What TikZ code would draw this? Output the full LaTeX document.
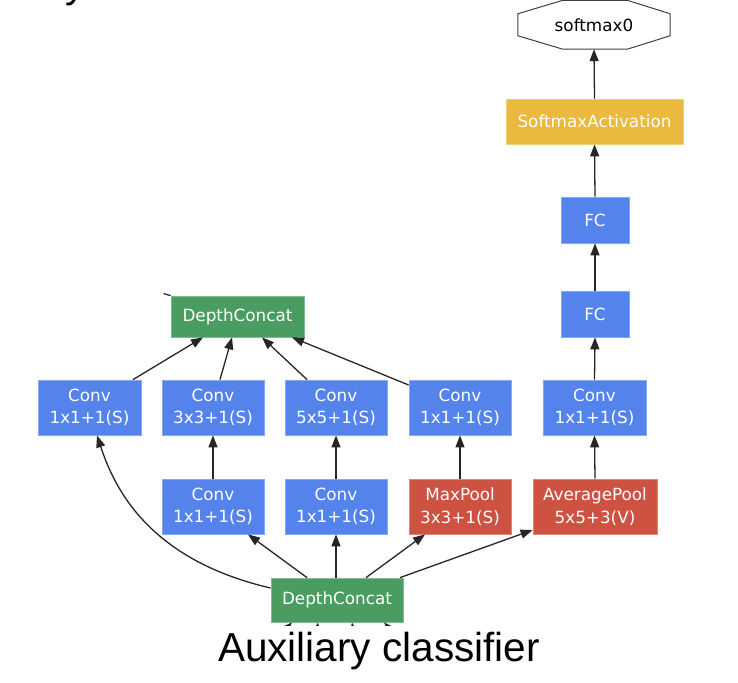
\documentclass[tikz,border=0pt]{standalone}
\usepackage{fontspec}
\newfontfamily\dvfont{DejaVu Sans}
\newfontfamily\capfont{Liberation Sans}
\usetikzlibrary{arrows.meta,calc}
\definecolor{gblue}{RGB}{84,131,236}
\definecolor{ggreen}{RGB}{73,157,97}
\definecolor{gred}{RGB}{205,82,65}
\definecolor{gyellow}{RGB}{234,185,61}
\tikzset{
  box/.style={rectangle, inner sep=0pt, align=center, text=white,
    font=\dvfont\fontsize{16.8}{22.5}\selectfont, line width=0.8pt},
  bluebox/.style={box, fill=gblue, draw=gblue!70!white, minimum width=103pt, minimum height=55pt},
  fcbox/.style={box, fill=gblue, draw=gblue!70!white, minimum width=68pt, minimum height=46pt},
  redbox/.style={box, fill=gred, draw=gred!70!white, minimum height=55pt},
  greenbox/.style={box, fill=ggreen, draw=ggreen!70!white},
  yellowbox/.style={box, fill=gyellow, draw=gyellow!70!white, minimum width=177pt, minimum height=45pt},
  octnode/.style={rectangle, inner sep=0pt, minimum width=152pt, minimum height=48.5pt,
    font=\dvfont\fontsize{16.8}{22}\selectfont, text=black},
  octline/.style={draw=black!75, line width=1pt, fill=white},
  conn/.style={line width=1.3pt, draw=black!85, -{Triangle[length=12pt,width=9pt]}},
  plainconn/.style={line width=1.3pt, draw=black!85},
  capstyle/.style={font=\capfont\fontsize{40.5}{48}\selectfont, inner sep=0pt, text=black},
}
\begin{document}
\begin{tikzpicture}[x=1pt,y=-1pt]
\useasboundingbox (0,0) rectangle (738,682);
\begin{scope}
\clip (0,0) rectangle (738,682);
\fill[white] (0,0) rectangle (738,682);

% cut-off title glyph
\node[capstyle, anchor=base west] (ytop) at (65,-2.6) {y};

% octagon output
\node[octnode] (sm) at (594,24.75) {};
\draw[octline] ($(sm.west)+(0,-11)$) -- ($(sm.north west)+(45,0)$) -- ($(sm.north east)+(-43,0)$)
  -- ($(sm.east)+(0,-11)$) -- ($(sm.east)+(0,11)$) -- ($(sm.south east)+(-43,0)$)
  -- ($(sm.south west)+(45,0)$) -- ($(sm.west)+(0,11)$) -- cycle;
\node[octnode] at (sm) {softmax0};

\node[yellowbox] (sa) at (594.5,121.5) {SoftmaxActivation};
\node[fcbox] (fc2) at (595,220) {FC};
\node[fcbox] (fc1) at (595,314) {FC};
\node[bluebox] (cr) at (594.5,407.5) {Conv\\1x1+1(S)};
\node[redbox, minimum width=124pt] (avg) at (595,506.5) {AveragePool\\5x5+3(V)};
\node[redbox, minimum width=102pt] (mp) at (460,506.5) {MaxPool\\3x3+1(S)};
\node[bluebox, minimum width=102pt] (cb5) at (336,506.5) {Conv\\1x1+1(S)};
\node[bluebox, minimum width=102pt] (cb3) at (213,506.5) {Conv\\1x1+1(S)};
\node[bluebox] (c1) at (89.5,407.5) {Conv\\1x1+1(S)};
\node[bluebox, minimum width=102pt] (c3) at (213,407.5) {Conv\\3x3+1(S)};
\node[bluebox, minimum width=102pt] (c5) at (336,407.5) {Conv\\5x5+1(S)};
\node[bluebox, minimum width=102pt] (c4) at (460,407.5) {Conv\\1x1+1(S)};
\node[greenbox, minimum width=133pt, minimum height=41pt] (dc1) at (237.5,316.5) {DepthConcat};
\node[greenbox, minimum width=132pt, minimum height=44pt] (dc0) at (337,600) {DepthConcat};

% right column
\draw[conn] (sa.north) -- (sm.south);
\draw[conn] (fc2.north) -- (sa.south);
\draw[conn] (fc1.north) -- (fc2.south);
\draw[conn] (cr.north) -- (fc1.south);
\draw[conn] (avg.north) -- (cr.south);

% to upper DepthConcat
\draw[conn] ([xshift=43.5pt]c1.north) -- ([xshift=-34.5pt]dc1.south);
\draw[conn] ([xshift=7pt]c3.north) -- ([xshift=-5.5pt]dc1.south);
\draw[conn] ([xshift=-29pt]c5.north) -- ([xshift=24.5pt]dc1.south);
\draw[conn] ([yshift=22.5pt]c4.west) -- ([xshift=54.5pt]dc1.south);
\draw[plainconn] (dc1.north west) -- ++(-7,-2) coordinate (dcout);

% middle verticals
\draw[conn] (cb3.north) -- (c3.south);
\draw[conn] (cb5.north) -- (c5.south);
\draw[conn] (mp.north) -- (c4.south);

% from lower DepthConcat
\draw[conn] ([xshift=63pt]dc0.north) -- ([yshift=-23.5pt]avg.west);
\draw[conn] ([xshift=29pt]dc0.north) -- ([xshift=-35pt]mp.south);
\draw[conn] (dc0.north -| cb5.south) -- (cb5.south);
\draw[conn] ([xshift=-30pt]dc0.north) -- ([xshift=35pt]cb3.south);
\draw[conn] ([yshift=12pt]dc0.west) .. controls (150,560) and (115,490) .. ([xshift=7.5pt]c1.south);

% incoming edges below lower DepthConcat (mostly hidden)
\coordinate (in1) at (265,650);
\coordinate (in2) at (314,650);
\coordinate (in3) at (356,650);
\coordinate (in4) at (410,650);
\draw[conn] (in1) -- ([xshift=-45pt]dc0.south);
\draw[conn] (in2) -- ([xshift=-19pt]dc0.south);
\draw[conn] (in3) -- ([xshift=15pt]dc0.south);
\draw[conn] (in4) -- ([xshift=47pt]dc0.south);
\fill[white] (0,626) rectangle (738,682);

\node[capstyle, anchor=base] (cap) at (379,661) {Auxiliary classifier};
\end{scope}
\end{tikzpicture}
\end{document}
